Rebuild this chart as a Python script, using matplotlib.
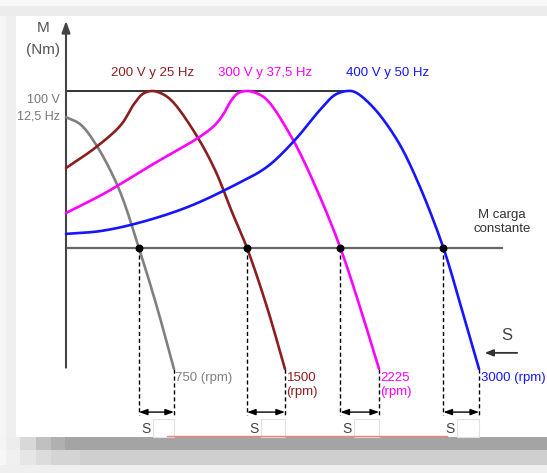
import numpy as np
import matplotlib
matplotlib.use("Agg")
import matplotlib.pyplot as plt
from matplotlib.patches import Rectangle

plt.rcParams['font.family'] = ['Liberation Sans', 'DejaVu Sans']

# ---------------- data (speed in rpm-like units, torque in % of max) -------------
labels_curves = ["100 V\n12,5 Hz", "200 V y 25 Hz", "300 V y 37,5 Hz", "400 V y 50 Hz"]
sync_labels = ["750 (rpm)", "1500\n(rpm)", "2225\n(rpm)", "3000 (rpm)"]
colors = ["#808080", "#8B1E1E", "#FF00FF", "#1515FF"]

gray_n = [0, 102, 211, 379, 531, 662, 786]
gray_t = [90.6, 88.1, 81.3, 65.5, 43.5, 22.3, 0]

brown_n = [0, 211, 400, 495, 560, 626, 700, 772, 939, 1085, 1208, 1318, 1463, 1594]
brown_t = [72.3, 79.5, 87.8, 95.3, 99.0, 100, 99.0, 96.4, 84.9, 71.6, 56.5, 43.5, 22.3, 0]

mag_n = [0, 284, 648, 961, 1085, 1150, 1200, 1255, 1318, 1383, 1463, 1653, 1827, 1995, 2140, 2279]
mag_t = [56.1, 63.3, 74.1, 83.1, 87.8, 92.0, 96.4, 99.3, 100, 99.3, 96.8, 82.4, 64.4, 43.9, 22.3, 0]

blue_n = [0, 248, 524, 888, 1230, 1463, 1667, 1849, 1958, 2046, 2104, 2235, 2410, 2555, 2745, 2883, 3007]
blue_t = [48.6, 49.6, 52.5, 58.3, 66.2, 72.7, 82.4, 93.2, 98.6, 100, 99.6, 94.2, 82.4, 68.0, 43.9, 21.2, 0]

load_torque = 43.5
max_torque = 100

curves = [(gray_n, gray_t), (brown_n, brown_t), (mag_n, mag_t), (blue_n, blue_t)]

# ---------------- geometry helpers --------------------------------------------------
K = 7.28    # speed units per pixel
PT = 2.78   # pixels per torque unit
W, H = 547, 473


def smooth(xs, ys, n=30, alpha=0.5):
    """Centripetal Catmull-Rom through the points (distances measured in pixel scale)."""
    P = np.column_stack([np.asarray(xs, float) / K, np.asarray(ys, float) * PT])
    P = np.vstack([2 * P[0] - P[1], P, 2 * P[-1] - P[-2]])
    out = []
    for i in range(1, len(P) - 2):
        p0, p1, p2, p3 = P[i - 1], P[i], P[i + 1], P[i + 2]
        t0 = 0.0
        t1 = t0 + np.linalg.norm(p1 - p0) ** alpha
        t2 = t1 + np.linalg.norm(p2 - p1) ** alpha
        t3 = t2 + np.linalg.norm(p3 - p2) ** alpha
        t = np.linspace(t1, t2, n, endpoint=False)[:, None]
        A1 = (t1 - t) / (t1 - t0) * p0 + (t - t0) / (t1 - t0) * p1
        A2 = (t2 - t) / (t2 - t1) * p1 + (t - t1) / (t2 - t1) * p2
        A3 = (t3 - t) / (t3 - t2) * p2 + (t - t2) / (t3 - t2) * p3
        B1 = (t2 - t) / (t2 - t0) * A1 + (t - t0) / (t2 - t0) * A2
        B2 = (t3 - t) / (t3 - t1) * A2 + (t - t1) / (t3 - t1) * A3
        C = (t2 - t) / (t2 - t1) * B1 + (t - t1) / (t2 - t1) * B2
        out.append(C)
    out.append(P[-2][None, :])
    out = np.vstack(out)
    return out[:, 0] * K, out[:, 1] / PT


fig = plt.figure(figsize=(W / 100, H / 100), dpi=100)
fig.patch.set_facecolor("white")


def frect(x0, y0, x1, y1, color):
    fig.patches.append(Rectangle((x0 / W, 1 - y1 / H), (x1 - x0) / W, (y1 - y0) / H,
                                 transform=fig.transFigure, facecolor=color,
                                 edgecolor="none", zorder=-10))


# frame / shadow decoration
frect(0, 0, W, 6, "#f8f8f8")
frect(0, 6, W, 16, "#ececec")
frect(0, 16, 6, 437, "#f6f6f6")
frect(6, 16, 16, 437, "#efefef")
frect(0, 437, W, 450, "#a4a4a4")
for x0, x1, c in [(0, 6, "#f5f5f5"), (6, 20, "#ededed"), (20, 36, "#d8d8d8"),
                  (36, 51, "#c0c0c0"), (51, 65, "#b0b0b0")]:
    frect(x0, 437, x1, 450, c)
frect(0, 450, W, 465, "#cfcfcf")
for x0, x1, c in [(0, 6, "#f7f7f7"), (6, 20, "#f0f0f0"), (20, 36, "#e6e6e6"),
                  (36, 51, "#dcdcdc"), (51, 80, "#d4d4d4")]:
    frect(x0, 450, x1, 465, c)
frect(0, 465, W, H, "#efefef")

ax = fig.add_axes([0, 0, 1, 1])
ax.set_xlim(-66 * K, (W - 66) * K)
ax.set_ylim((369 - H) / PT, 369 / PT)
ax.axis("off")
ax.patch.set_alpha(0)

# axes with arrows
ax.annotate("", xy=(0, (369 - 18) / PT), xytext=(0, -0.5),
            arrowprops=dict(arrowstyle="-|>,head_length=0.7,head_width=0.25", color="#444", lw=1.5))
ax.annotate("", xy=((549 - 66) * K, 0), xytext=(-1 * K, 0),
            arrowprops=dict(arrowstyle="-|>,head_length=0.7,head_width=0.25", color="#333", lw=1.5))

# max torque line
ax.plot([0, blue_n[int(np.argmax(blue_t))]], [max_torque, max_torque], color="#222", lw=1.3, zorder=2)
# load line
ax.plot([0, (502 - 66) * K], [load_torque, load_torque], color="#666", lw=1.6, zorder=2)

inter_n = []
for (xs, ys), c in zip(curves, colors):
    sx, sy = smooth(xs, ys)
    ax.plot(sx, sy, color=c, lw=1.9, zorder=3, solid_capstyle="round")
    ip = int(np.argmax(sy))
    dx, dy = sx[ip:], sy[ip:]
    inter_n.append(float(np.interp(load_torque, dy[::-1], dx[::-1])))

sync_n = [c[0][-1] for c in curves]
ax.scatter(inter_n, [load_torque] * 4, s=22, color="black", zorder=5)

bottom = -16.5
for ni, ns, c, lab in zip(inter_n, sync_n, colors, sync_labels):
    ax.plot([ni, ni], [load_torque, bottom], color="black", lw=1.0, ls=(0, (3, 2)), zorder=1)
    ax.plot([ns, ns], [0, bottom], color="black", lw=1.0, ls=(0, (3, 2)), zorder=1)
    ax.annotate("", xy=(ni, -15.5), xytext=(ns, -15.5),
                arrowprops=dict(arrowstyle="<|-|>,head_length=0.5,head_width=0.18",
                                color="black", lw=1.0, shrinkA=0, shrinkB=0))
    ax.text(ni + 2 * K, -21.5, "S", fontsize=10, color="#444", ha="left", va="center")
    ax.add_patch(Rectangle((ni + 14 * K, -24.5), (ns - ni - 14 * K), 6.5,
                           facecolor="white", edgecolor="#e2e2e2", lw=0.8, zorder=1))
    ax.text(ns + 1.5 * K, -1.0, lab, fontsize=9.5, color=c, ha="left", va="top", linespacing=1.2)

# faint red line
ax.plot([(167 - 66) * K, (447 - 66) * K], [-24.1, -24.1], color="#f08080", lw=1.0, zorder=1)

# texts
ax.text(-23 * K, 122.7, "M", fontsize=11, color="#555", ha="center", va="center")
ax.text(-23 * K, 114.7, "(Nm)", fontsize=11, color="#555", ha="center", va="center")
ax.text(-6 * K, 96.8, labels_curves[0].split("\n")[0], fontsize=9, color="#777", ha="right", va="center")
ax.text(-6 * K, 91.0, labels_curves[0].split("\n")[1], fontsize=9, color="#777", ha="right", va="center")
for lab, c, nx in zip(labels_curves[1:], colors[1:], [633, 1449, 2344]):
    ax.text(nx, 106.5, lab, fontsize=9.5, color=c, ha="center", va="center")
ax.text(3174, 53.0, "M carga\nconstante", fontsize=9.5, color="#333", ha="center", va="center",
        linespacing=1.2)
ax.text(3210, 12.2, "S", fontsize=12, color="#444", ha="center", va="center")
ax.annotate("", xy=(3028, 5.8), xytext=(3305, 5.8),
            arrowprops=dict(arrowstyle="-|>,head_length=0.5,head_width=0.2", color="#333", lw=1.3))

fig.savefig("out.png", dpi=100)
